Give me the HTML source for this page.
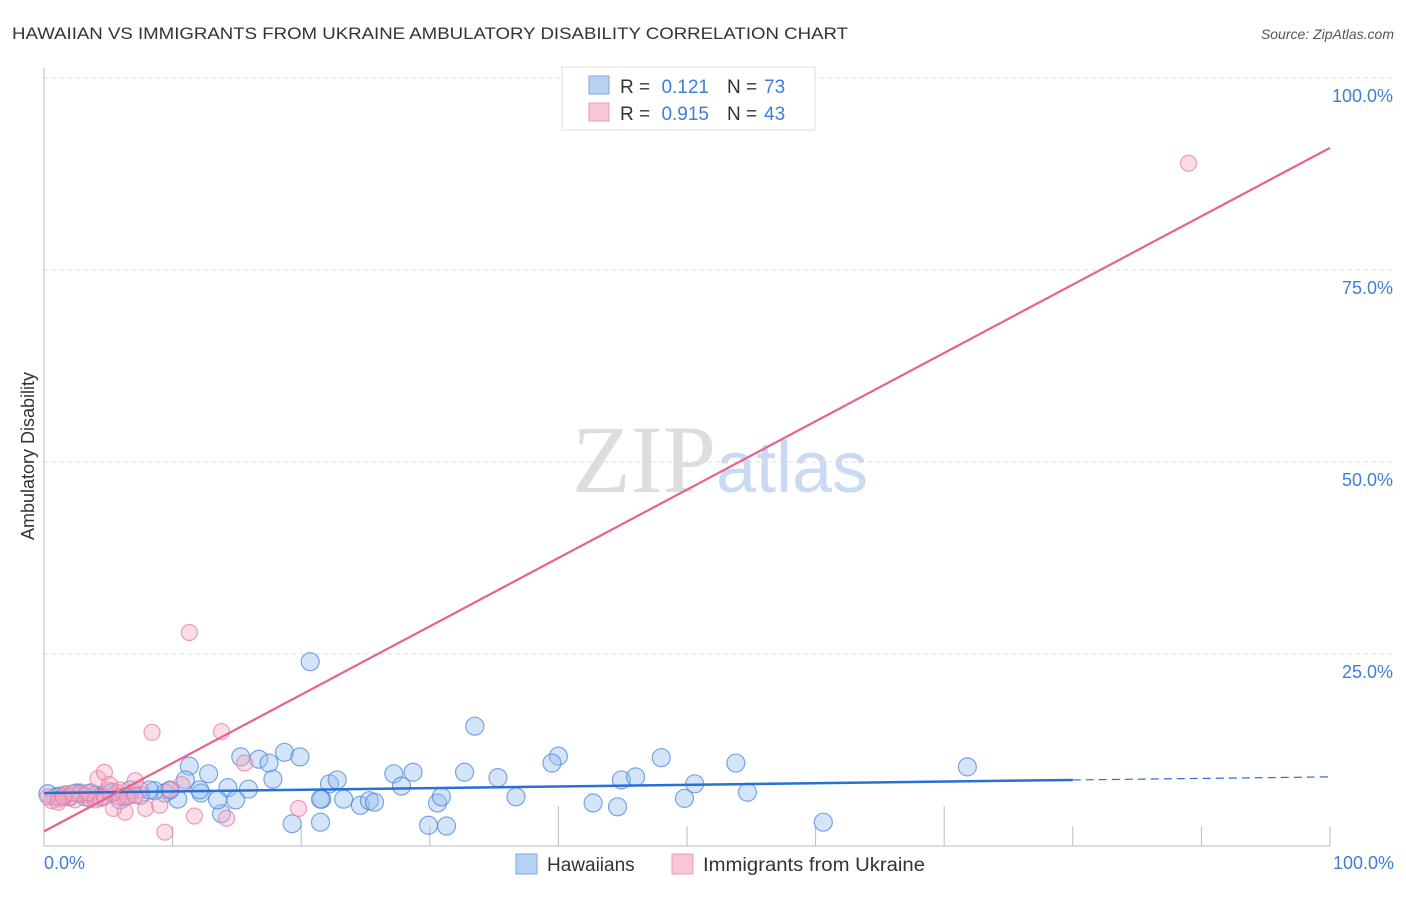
<!DOCTYPE html>
<html><head><meta charset="utf-8"><style>
body{margin:0;background:#fff;font-family:"Liberation Sans",sans-serif}
</style></head><body>
<svg id="svg" width="1406" height="892" xmlns="http://www.w3.org/2000/svg" style="font-family:'Liberation Sans',sans-serif">
<text x="12" y="39" font-size="17" fill="#333" textLength="836" lengthAdjust="spacingAndGlyphs">HAWAIIAN VS IMMIGRANTS FROM UKRAINE AMBULATORY DISABILITY CORRELATION CHART</text>
<text x="1394" y="39" font-size="14" fill="#555" text-anchor="end" font-style="italic">Source: ZipAtlas.com</text>
<text x="720" y="492" font-size="96" fill="#ddd" text-anchor="middle" font-family="Liberation Serif,serif">ZIP<tspan fill="#c9daf2" font-family="Liberation Sans,sans-serif" font-size="72">atlas</tspan></text>
<g id="grid"></g>
<line x1="44" y1="68" x2="44" y2="846" stroke="#bbb"/>
<line x1="44" y1="846" x2="1330" y2="846" stroke="#bbb"/>
<text x="34" y="456" font-size="18" fill="#333" text-anchor="middle" transform="rotate(-90 34 456)">Ambulatory Disability</text>
<text x="44" y="869" font-size="18" fill="#3d7fd8">0.0%</text>
<text x="1394" y="869" font-size="18" fill="#3d7fd8" text-anchor="end">100.0%</text>
<g id="pts"></g>
<g id="lines"></g>
<g>
<rect x="562" y="67" width="253" height="63" fill="#fff" stroke="#ddd"/>
<rect x="589" y="76" width="20" height="18" fill="#b9d3f5" stroke="#7aa7e3"/>
<rect x="589" y="103" width="20" height="18" fill="#f9c6d6" stroke="#eb9bb5"/>
<text x="620" y="93" font-size="19" fill="#333">R =</text>
<text x="709" y="93" font-size="19" fill="#3d7fd8" text-anchor="end">0.121</text>
<text x="727" y="93" font-size="19" fill="#333">N =</text>
<text x="764" y="93" font-size="19" fill="#3d7fd8">73</text>
<text x="620" y="120" font-size="19" fill="#333">R =</text>
<text x="709" y="120" font-size="19" fill="#3d7fd8" text-anchor="end">0.915</text>
<text x="727" y="120" font-size="19" fill="#333">N =</text>
<text x="764" y="120" font-size="19" fill="#3d7fd8">43</text>
</g>
<g>
<rect x="516" y="854" width="21" height="20" fill="#b9d3f5" stroke="#7aa7e3"/>
<text x="547" y="871" font-size="19" fill="#333">Hawaiians</text>
<rect x="672" y="854" width="21" height="20" fill="#f9c6d6" stroke="#eb9bb5"/>
<text x="703" y="871" font-size="19" fill="#333" textLength="222" lengthAdjust="spacingAndGlyphs">Immigrants from Ukraine</text>
</g>
</svg>
<script>
const yTicks=[25,50,75,100];
const yTickLabels=["25.0%","50.0%","75.0%","100.0%"];
const xTicks=[10,20,30,40,50,60,70,80,90,100];
const blueX=[20.7,33.5,40,39.5,48,53.8,71.8,15.3,16.7,18.7,19.9,17.5,11.3,12.8,17.8,11,14.3,15.9,22.2,22.8,27.2,28.7,27.8,32.7,35.3,44.9,46,50.6,54.7,21.6,23.3,24.6,25.3,25.7,21.5,30.6,30.9,36.7,42.7,44.6,49.8,19.3,21.5,29.9,31.3,60.6,13.8,13.5,12.2,10.4,9.4,8.6,7.5,6.3,5.1,4,2.8,1.6,0.9,0.3,6.7,8.2,9.8,12.1,14.9,5.9,4.4,3.2,2,1.2,5.3,3.6,2.5];
const blueY=[24,15.6,11.7,10.8,11.5,10.8,10.3,11.6,11.3,12.2,11.6,10.8,10.4,9.4,8.7,8.6,7.6,7.4,8.1,8.6,9.4,9.6,7.8,9.6,8.9,8.6,9,8.1,7,6.1,6.1,5.3,5.9,5.7,6.1,5.6,6.4,6.4,5.6,5.1,6.2,2.9,3.1,2.7,2.6,3.1,4.2,6,6.9,6.1,6.9,7.2,6.6,6.4,6.9,6.6,6.9,6.6,6.4,6.8,7.3,7.3,7.3,7.3,6,6,6.4,6.4,6.4,6.5,7,6.9,6.9];
const pinkX=[89,11.3,8.4,13.8,4.2,4.7,7.1,10.7,15.6,19.8,11.7,14.2,9.4,6.3,5.4,7.9,9,6.7,5.7,3.2,2,1.2,0.6,0.3,2.4,3.6,4.4,5,5.9,7.5,1.7,2.8,4,1.1,1.5,2.2,3.4,4.7,5.8,6.5,7.1,5.1,9.8];
const pinkY=[88.9,27.8,14.8,14.9,8.8,9.6,8.5,8,10.8,4.9,3.9,3.6,1.8,4.4,4.9,4.9,5.3,6.5,7,6.6,6.4,6.1,5.9,6.4,6,6.1,6.2,7.3,7.3,7.3,6.8,6.8,6,5.7,6.4,6.9,6.9,6.4,6.4,6.4,6.6,8,7.3];
const blueTrend=[6.9,8.6,9.0];
const pinkTrend=[1.9,90.9];
const X=v=>44+v*12.86, Y=v=>846-v*7.68;
const NS="http://www.w3.org/2000/svg";
function mk(tag,attrs,parent){const e=document.createElementNS(NS,tag);for(const k in attrs)e.setAttribute(k,attrs[k]);parent.appendChild(e);return e;}
const grid=document.getElementById('grid'),pts=document.getElementById('pts'),lines=document.getElementById('lines');
yTicks.forEach((t,i)=>{
  const l=mk('line',{x1:44,x2:1394,y1:Y(t),y2:Y(t),stroke:'#ddd','stroke-dasharray':'4,4'},grid);
  
  
  const tx=mk('text',{x:1393,y:Y(t)+24,'font-size':18,fill:'#3d7fd8','text-anchor':'end'},grid);
  tx.textContent=yTickLabels[i];
  
  
});
xTicks.forEach(t=>{
  const tall=(t===40||t===70);
  const l=mk('line',{x1:X(t),x2:X(t),y1:tall?806:826,y2:846,stroke:'#bbb'},grid);
  
  
});
blueX.forEach((v,i)=>{
  const c=mk('circle',{cx:X(v),cy:Y(blueY[i]),r:9,fill:'rgba(150,190,240,0.4)',stroke:'rgba(70,130,220,0.7)','stroke-width':1.2},pts);
  
  
});
pinkX.forEach((v,i)=>{
  const c=mk('circle',{cx:X(v),cy:Y(pinkY[i]),r:8,fill:'rgba(245,170,195,0.4)',stroke:'rgba(230,120,160,0.7)','stroke-width':1.2},pts);
  
  
});
const l1=mk('line',{x1:X(0),y1:Y(blueTrend[0]),x2:X(80),y2:Y(blueTrend[1]),stroke:'#2a6fd6','stroke-width':2.5},lines);


const l2=mk('line',{x1:X(80),y1:Y(blueTrend[1]),x2:X(100),y2:Y(blueTrend[2]),stroke:'#2a6fd6','stroke-width':1.2,'stroke-dasharray':'8,5'},lines);


const l3=mk('line',{x1:X(0),y1:Y(pinkTrend[0]),x2:X(100),y2:Y(pinkTrend[1]),stroke:'#e8628f','stroke-width':2.2},lines);


</script>
</body></html>
